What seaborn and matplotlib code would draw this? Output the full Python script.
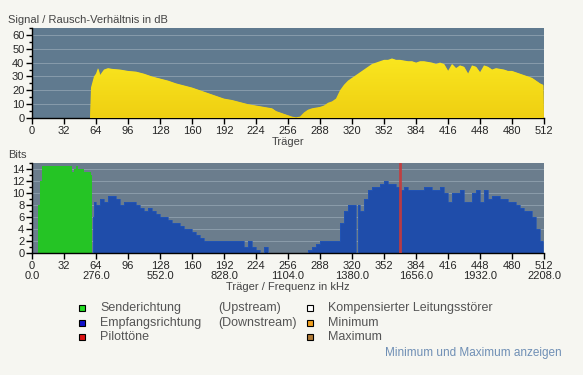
import numpy as np
import matplotlib
matplotlib.use("Agg")
import matplotlib.pyplot as plt
import seaborn as sns
from matplotlib.colors import LinearSegmentedColormap
from matplotlib.ticker import MultipleLocator

# SNR per carrier (dB)
snr_carrier = [0, 58, 59, 62, 64, 66, 68, 72, 76, 80, 88, 96, 104, 112, 120, 128, 136, 144,
               152, 160, 168, 176, 184, 192, 200, 208, 216, 224, 232, 240, 244, 248, 252,
               256, 260, 264, 268, 272, 276, 280, 288, 292, 296, 300, 304, 308, 312, 316,
               320, 324, 328, 332, 336, 340, 344, 348, 352, 356, 360, 364, 368, 372, 376,
               380, 384, 388, 392, 396, 400, 404, 408, 412, 416, 420, 424, 428, 432, 436,
               440, 444, 448, 452, 456, 460, 464, 468, 472, 476, 480, 484, 488, 492, 496,
               500, 504, 508, 511, 511.5]
snr_db = [0, 0, 22, 30, 32, 36, 31, 35, 36, 35.5, 35, 34, 33.5, 32, 30, 28.5, 27, 25,
          23.5, 22, 20, 18, 16, 14, 13, 11.5, 10, 9, 8, 7, 5, 4, 3,
          2, 1, 0.5, 1, 4, 6, 7, 8, 9, 11, 12, 14, 20, 24, 27,
          29, 31, 33, 35, 37, 39, 40, 41, 42, 42, 43, 42, 42, 41.5, 41,
          41, 40, 41, 41, 40.5, 40, 39, 40, 39, 34, 39, 36, 38, 37, 32,
          38, 37, 33, 38, 37, 35, 36, 35.5, 35, 34, 34, 33, 32, 31, 30,
          29, 27, 25, 24, 0]

# upstream bits (green)
up_carrier = [0, 5, 6, 8, 10, 12, 16, 20, 24, 28, 32, 36, 38, 40, 42, 44, 46, 48, 52, 56, 59, 60]
up_bits = [0, 0, 8, 12, 14.5, 14.5, 14.5, 14.5, 14.5, 14.5, 14.5, 14.5, 14.5, 13.5, 14, 14.5,
           14, 14, 13.5, 13.5, 13, 0]

# downstream bits (blue)
down_carrier = [60, 61, 62, 64, 68, 72, 76, 80, 84, 88, 92, 96, 100, 104, 108, 112, 116, 120,
                124, 128, 132, 136, 140, 144, 148, 152, 156, 160, 164, 168, 172, 176, 208,
                212, 216, 220, 224, 228, 232, 236, 272, 276, 280, 284, 288, 304, 308, 312,
                316, 320, 324, 326, 328, 332, 336, 340, 344, 348, 352, 356, 360, 364, 368,
                372, 376, 380, 384, 388, 392, 396, 400, 404, 408, 412, 416, 420, 424, 428,
                432, 436, 440, 444, 448, 452, 456, 460, 464, 468, 472, 476, 480, 484, 488,
                492, 496, 500, 504, 508, 511]
down_bits = [0, 6, 8.5, 8, 9, 8.5, 9.5, 9.5, 9, 8, 8.5, 8.5, 8.5, 8, 7.5, 7, 7.5, 7,
             6.5, 6, 6, 5.5, 5, 5, 4.5, 4, 4, 3.5, 3, 2.5, 2, 2, 2,
             1, 2, 1, 0.5, 0, 1, 0, 0, 0.5, 1, 1.5, 2, 2, 5, 7,
             8, 8, 0, 8, 7, 9, 10.5, 11, 11, 11.5, 12, 11.5, 11.5, 11, 10.5,
             11, 10.5, 10.5, 10.5, 10.5, 11, 11, 10.5, 10.5, 11, 10, 8.5, 10, 10, 10.5,
             8.5, 8.5, 10, 10.5, 8.5, 10.5, 9, 9.5, 9.5, 9, 9, 8.5, 8.5, 8, 7.5,
             7, 7, 6, 4, 2, 0]

pilot_carrier = [368]
khz_per_carrier = 4.3125

sns.set_style("white")
plt.rcParams["font.family"] = ["Liberation Sans", "DejaVu Sans"]
plt.rcParams["font.size"] = 8

bg = "#F6F6F1"
fig = plt.figure(figsize=(5.83, 3.75), dpi=100, facecolor=bg)
ax1 = fig.add_axes([32 / 583, 1 - 118 / 375, 512 / 583, 90 / 375])
ax2 = fig.add_axes([32 / 583, 1 - 253 / 375, 512 / 583, 90 / 375])


def style_axes(ax, face, ymax, major, minor):
    ax.set_facecolor(face)
    ax.set_xlim(0, 512)
    ax.set_ylim(0, ymax)
    for s in ["top", "right"]:
        ax.spines[s].set_visible(False)
    for s in ["left", "bottom"]:
        ax.spines[s].set_color("black")
        ax.spines[s].set_linewidth(1)
    ax.xaxis.set_major_locator(MultipleLocator(32))
    ax.yaxis.set_major_locator(MultipleLocator(major))
    ax.yaxis.set_minor_locator(MultipleLocator(minor))
    ax.tick_params(axis="both", which="major", direction="out", length=4, width=1,
                   color="black", labelsize=8, pad=1.5, left=True, bottom=True)
    ax.tick_params(axis="y", which="minor", direction="out", length=2, width=1,
                   color="black", left=True)
    ax.grid(axis="y", which="major", color="#9AAAB8", linewidth=0.6, alpha=0.8)
    ax.set_axisbelow(True)


def gradient_fill(ax, x, y, c_top, c_bot, ymax, step=None):
    poly = ax.fill_between(x, 0, y, step=step, color=c_bot, linewidth=0, zorder=2)
    cmap = LinearSegmentedColormap.from_list("g", [c_bot, c_top])
    grad = np.linspace(0, 1, 256).reshape(-1, 1)
    im = ax.imshow(grad, cmap=cmap, aspect="auto", origin="lower",
                   extent=[0, 512, 0, ymax], zorder=3)
    im.set_clip_path(poly.get_paths()[0], transform=ax.transData)
    return poly


style_axes(ax1, "#607A8F", 65, 10, 5)
gradient_fill(ax1, snr_carrier, snr_db, "#FFF226", "#EFCF12", 65)
ax1.set_xlabel("Träger", color="#444444", fontsize=8, labelpad=1)
fig.text(8 / 583, 1 - 20 / 375, "Signal / Rausch-Verhältnis in dB", color="#444444",
         fontsize=8, va="center")

style_axes(ax2, "#6B7D8D", 15, 2, 1)
ax2.fill_between(up_carrier, 0, up_bits, step="post", color="#25C425", linewidth=0, zorder=2)
ax2.fill_between(down_carrier, 0, down_bits, step="post", color="#1F4DAA", linewidth=0, zorder=2)
sns.lineplot(x=down_carrier, y=down_bits, drawstyle="steps-post", color="#2256B8",
             linewidth=0.5, ax=ax2, zorder=3)
for p in pilot_carrier:
    ax2.axvline(p, color="#C83A3A", linewidth=2, alpha=0.9, zorder=4)
ticks = np.arange(0, 513, 32)
labels = [f"{t}\n{t * khz_per_carrier:.1f}" if t % 64 == 0 else f"{t}" for t in ticks]
ax2.set_xticks(ticks)
ax2.set_xticklabels(labels, linespacing=1.05, va="top")
ax2.set_xlabel("Träger / Frequenz in kHz", color="#444444", fontsize=8, labelpad=1)
fig.text(8 / 583, 1 - 155 / 375, "Bits", color="#444444", fontsize=8, va="center")

# legend
legend_rows = [
    (82, 308, "#22DD22", "Senderichtung", "(Upstream)"),
    (82, 323, "#1010CC", "Empfangsrichtung", "(Downstream)"),
    (82, 337, "#DD1111", "Pilottöne", ""),
    (310, 308, "#FFFFFF", "Kompensierter Leitungsstörer", ""),
    (310, 323, "#F0A020", "Minimum", ""),
    (310, 337, "#B07A36", "Maximum", ""),
]
for x, y, col, t1, t2 in legend_rows:
    fig.patches.append(plt.Rectangle(((x - 3) / 583, 1 - (y + 3) / 375), 6 / 583, 6 / 375,
                                     transform=fig.transFigure, facecolor=col,
                                     edgecolor="black", linewidth=0.8))
    fig.text((x + 18) / 583, 1 - y / 375, t1, color="#555555", fontsize=9, va="center")
    if t2:
        fig.text(218 / 583, 1 - y / 375, t2, color="#555555", fontsize=9, va="center")
fig.text(562 / 583, 1 - 353 / 375, "Minimum und Maximum anzeigen", color="#6F8FB5",
         fontsize=8.5, va="center", ha="right")

fig.savefig("out.png", dpi=100, facecolor=bg)
